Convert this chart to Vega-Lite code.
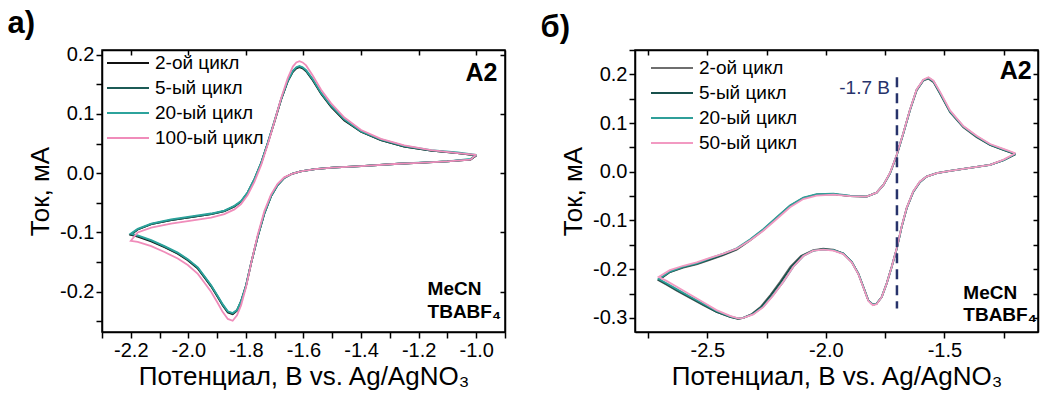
{
  "$schema": "https://vega.github.io/schema/vega-lite/v6.json",
  "padding": {"left": 6, "top": 6, "right": 0, "bottom": 0},
  "config": {
    "font": "Liberation Sans",
    "view": {"stroke": "black", "strokeWidth": 1.5},
    "axis": {"grid": false, "domainColor": "black", "domainWidth": 1.5, "tickColor": "black", "tickWidth": 1.5, "labelColor": "black", "labelFontSize": 20, "titleFontSize": 26, "titleFontWeight": "normal", "titleColor": "black", "labelFont": "Liberation Sans", "titleFont": "Liberation Sans", "labelPadding": 2},
    "legend": {"labelFontSize": 19, "labelColor": "black", "labelFont": "Liberation Sans", "symbolType": "stroke", "symbolSize": 1764, "symbolStrokeWidth": 2, "clipHeight": 18, "rowPadding": 6, "labelOffset": 5, "padding": 0, "title": null},
    "title": {"fontSize": 31, "fontWeight": "bold", "anchor": "start", "frame": "bounds", "color": "black", "font": "Liberation Sans", "baseline": "alphabetic"}
  },
  "spacing": 32,
  "resolve": {"scale": {"color": "independent"}, "legend": {"color": "independent"}},
  "hconcat": [
    {
      "width": 403,
      "height": 282,
      "title": {"text": "а)", "dx": -20, "offset": 5},
      "resolve": {"axis": {"x": "independent", "y": "independent"}},
      "layer": [
        {
          "data": {"values": [
            {"c":"2-ой цикл","i":0,"x":-1.000,"y":0.030},{"c":"2-ой цикл","i":1,"x":-1.020,"y":0.023},{"c":"2-ой цикл","i":2,"x":-1.100,"y":0.020},{"c":"2-ой цикл","i":3,"x":-1.200,"y":0.0175},{"c":"2-ой цикл","i":4,"x":-1.270,"y":0.016},{"c":"2-ой цикл","i":5,"x":-1.400,"y":0.012},{"c":"2-ой цикл","i":6,"x":-1.500,"y":0.0095},{"c":"2-ой цикл","i":7,"x":-1.560,"y":0.007},{"c":"2-ой цикл","i":8,"x":-1.610,"y":0.003},{"c":"2-ой цикл","i":9,"x":-1.640,"y":-0.001},{"c":"2-ой цикл","i":10,"x":-1.667,"y":-0.008},{"c":"2-ой цикл","i":11,"x":-1.690,"y":-0.020},{"c":"2-ой цикл","i":12,"x":-1.713,"y":-0.039},{"c":"2-ой цикл","i":13,"x":-1.736,"y":-0.068},{"c":"2-ой цикл","i":14,"x":-1.759,"y":-0.107},{"c":"2-ой цикл","i":15,"x":-1.782,"y":-0.152},{"c":"2-ой цикл","i":16,"x":-1.800,"y":-0.191},{"c":"2-ой цикл","i":17,"x":-1.817,"y":-0.217},{"c":"2-ой цикл","i":18,"x":-1.831,"y":-0.232},{"c":"2-ой цикл","i":19,"x":-1.846,"y":-0.238},{"c":"2-ой цикл","i":20,"x":-1.863,"y":-0.235},{"c":"2-ой цикл","i":21,"x":-1.881,"y":-0.223},{"c":"2-ой цикл","i":22,"x":-1.898,"y":-0.209},{"c":"2-ой цикл","i":23,"x":-1.921,"y":-0.191},{"c":"2-ой цикл","i":24,"x":-1.944,"y":-0.176},{"c":"2-ой цикл","i":25,"x":-1.967,"y":-0.161},{"c":"2-ой цикл","i":26,"x":-2.002,"y":-0.147},{"c":"2-ой цикл","i":27,"x":-2.037,"y":-0.136},{"c":"2-ой цикл","i":28,"x":-2.083,"y":-0.125},{"c":"2-ой цикл","i":29,"x":-2.129,"y":-0.115},{"c":"2-ой цикл","i":30,"x":-2.176,"y":-0.107},{"c":"2-ой цикл","i":31,"x":-2.200,"y":-0.104},{"c":"2-ой цикл","i":32,"x":-2.176,"y":-0.095},{"c":"2-ой цикл","i":33,"x":-2.129,"y":-0.086},{"c":"2-ой цикл","i":34,"x":-2.060,"y":-0.079},{"c":"2-ой цикл","i":35,"x":-1.990,"y":-0.074},{"c":"2-ой цикл","i":36,"x":-1.921,"y":-0.069},{"c":"2-ой цикл","i":37,"x":-1.875,"y":-0.064},{"c":"2-ой цикл","i":38,"x":-1.840,"y":-0.056},{"c":"2-ой цикл","i":39,"x":-1.817,"y":-0.048},{"c":"2-ой цикл","i":40,"x":-1.794,"y":-0.033},{"c":"2-ой цикл","i":41,"x":-1.771,"y":-0.011},{"c":"2-ой цикл","i":42,"x":-1.747,"y":0.017},{"c":"2-ой цикл","i":43,"x":-1.724,"y":0.051},{"c":"2-ой цикл","i":44,"x":-1.701,"y":0.087},{"c":"2-ой цикл","i":45,"x":-1.678,"y":0.124},{"c":"2-ой цикл","i":46,"x":-1.655,"y":0.155},{"c":"2-ой цикл","i":47,"x":-1.637,"y":0.171},{"c":"2-ой цикл","i":48,"x":-1.625,"y":0.177},{"c":"2-ой цикл","i":49,"x":-1.614,"y":0.179},{"c":"2-ой цикл","i":50,"x":-1.603,"y":0.177},{"c":"2-ой цикл","i":51,"x":-1.591,"y":0.172},{"c":"2-ой цикл","i":52,"x":-1.568,"y":0.157},{"c":"2-ой цикл","i":53,"x":-1.539,"y":0.134},{"c":"2-ой цикл","i":54,"x":-1.504,"y":0.112},{"c":"2-ой цикл","i":55,"x":-1.458,"y":0.089},{"c":"2-ой цикл","i":56,"x":-1.400,"y":0.070},{"c":"2-ой цикл","i":57,"x":-1.331,"y":0.056},{"c":"2-ой цикл","i":58,"x":-1.250,"y":0.045},{"c":"2-ой цикл","i":59,"x":-1.157,"y":0.038},{"c":"2-ой цикл","i":60,"x":-1.065,"y":0.034},{"c":"2-ой цикл","i":61,"x":-1.000,"y":0.030},

            {"c":"5-ый цикл","i":0,"x":-1.000,"y":0.030},{"c":"5-ый цикл","i":1,"x":-1.020,"y":0.023},{"c":"5-ый цикл","i":2,"x":-1.100,"y":0.020},{"c":"5-ый цикл","i":3,"x":-1.200,"y":0.0175},{"c":"5-ый цикл","i":4,"x":-1.270,"y":0.016},{"c":"5-ый цикл","i":5,"x":-1.400,"y":0.012},{"c":"5-ый цикл","i":6,"x":-1.500,"y":0.0095},{"c":"5-ый цикл","i":7,"x":-1.560,"y":0.007},{"c":"5-ый цикл","i":8,"x":-1.610,"y":0.003},{"c":"5-ый цикл","i":9,"x":-1.640,"y":-0.001},{"c":"5-ый цикл","i":10,"x":-1.667,"y":-0.008},{"c":"5-ый цикл","i":11,"x":-1.690,"y":-0.020},{"c":"5-ый цикл","i":12,"x":-1.713,"y":-0.039},{"c":"5-ый цикл","i":13,"x":-1.736,"y":-0.068},{"c":"5-ый цикл","i":14,"x":-1.759,"y":-0.107},{"c":"5-ый цикл","i":15,"x":-1.782,"y":-0.152},{"c":"5-ый цикл","i":16,"x":-1.800,"y":-0.190},{"c":"5-ый цикл","i":17,"x":-1.817,"y":-0.216},{"c":"5-ый цикл","i":18,"x":-1.831,"y":-0.231},{"c":"5-ый цикл","i":19,"x":-1.846,"y":-0.237},{"c":"5-ый цикл","i":20,"x":-1.863,"y":-0.234},{"c":"5-ый цикл","i":21,"x":-1.881,"y":-0.222},{"c":"5-ый цикл","i":22,"x":-1.898,"y":-0.208},{"c":"5-ый цикл","i":23,"x":-1.921,"y":-0.190},{"c":"5-ый цикл","i":24,"x":-1.944,"y":-0.175},{"c":"5-ый цикл","i":25,"x":-1.967,"y":-0.160},{"c":"5-ый цикл","i":26,"x":-2.002,"y":-0.146},{"c":"5-ый цикл","i":27,"x":-2.037,"y":-0.135},{"c":"5-ый цикл","i":28,"x":-2.083,"y":-0.124},{"c":"5-ый цикл","i":29,"x":-2.129,"y":-0.114},{"c":"5-ый цикл","i":30,"x":-2.176,"y":-0.106},{"c":"5-ый цикл","i":31,"x":-2.200,"y":-0.103},{"c":"5-ый цикл","i":32,"x":-2.176,"y":-0.095},{"c":"5-ый цикл","i":33,"x":-2.129,"y":-0.086},{"c":"5-ый цикл","i":34,"x":-2.060,"y":-0.079},{"c":"5-ый цикл","i":35,"x":-1.990,"y":-0.074},{"c":"5-ый цикл","i":36,"x":-1.921,"y":-0.069},{"c":"5-ый цикл","i":37,"x":-1.875,"y":-0.064},{"c":"5-ый цикл","i":38,"x":-1.840,"y":-0.056},{"c":"5-ый цикл","i":39,"x":-1.817,"y":-0.048},{"c":"5-ый цикл","i":40,"x":-1.794,"y":-0.033},{"c":"5-ый цикл","i":41,"x":-1.771,"y":-0.011},{"c":"5-ый цикл","i":42,"x":-1.747,"y":0.017},{"c":"5-ый цикл","i":43,"x":-1.724,"y":0.051},{"c":"5-ый цикл","i":44,"x":-1.701,"y":0.087},{"c":"5-ый цикл","i":45,"x":-1.678,"y":0.124},{"c":"5-ый цикл","i":46,"x":-1.655,"y":0.155},{"c":"5-ый цикл","i":47,"x":-1.637,"y":0.172},{"c":"5-ый цикл","i":48,"x":-1.625,"y":0.178},{"c":"5-ый цикл","i":49,"x":-1.614,"y":0.180},{"c":"5-ый цикл","i":50,"x":-1.603,"y":0.178},{"c":"5-ый цикл","i":51,"x":-1.591,"y":0.173},{"c":"5-ый цикл","i":52,"x":-1.568,"y":0.158},{"c":"5-ый цикл","i":53,"x":-1.539,"y":0.135},{"c":"5-ый цикл","i":54,"x":-1.504,"y":0.113},{"c":"5-ый цикл","i":55,"x":-1.458,"y":0.090},{"c":"5-ый цикл","i":56,"x":-1.400,"y":0.070},{"c":"5-ый цикл","i":57,"x":-1.331,"y":0.056},{"c":"5-ый цикл","i":58,"x":-1.250,"y":0.045},{"c":"5-ый цикл","i":59,"x":-1.157,"y":0.038},{"c":"5-ый цикл","i":60,"x":-1.065,"y":0.034},{"c":"5-ый цикл","i":61,"x":-1.000,"y":0.030},

            {"c":"20-ый цикл","i":0,"x":-1.000,"y":0.031},{"c":"20-ый цикл","i":1,"x":-1.020,"y":0.024},{"c":"20-ый цикл","i":2,"x":-1.100,"y":0.020},{"c":"20-ый цикл","i":3,"x":-1.200,"y":0.018},{"c":"20-ый цикл","i":4,"x":-1.270,"y":0.016},{"c":"20-ый цикл","i":5,"x":-1.400,"y":0.012},{"c":"20-ый цикл","i":6,"x":-1.500,"y":0.0095},{"c":"20-ый цикл","i":7,"x":-1.560,"y":0.007},{"c":"20-ый цикл","i":8,"x":-1.610,"y":0.003},{"c":"20-ый цикл","i":9,"x":-1.640,"y":-0.001},{"c":"20-ый цикл","i":10,"x":-1.667,"y":-0.008},{"c":"20-ый цикл","i":11,"x":-1.690,"y":-0.020},{"c":"20-ый цикл","i":12,"x":-1.713,"y":-0.039},{"c":"20-ый цикл","i":13,"x":-1.736,"y":-0.068},{"c":"20-ый цикл","i":14,"x":-1.759,"y":-0.107},{"c":"20-ый цикл","i":15,"x":-1.782,"y":-0.152},{"c":"20-ый цикл","i":16,"x":-1.800,"y":-0.190},{"c":"20-ый цикл","i":17,"x":-1.817,"y":-0.216},{"c":"20-ый цикл","i":18,"x":-1.831,"y":-0.231},{"c":"20-ый цикл","i":19,"x":-1.846,"y":-0.236},{"c":"20-ый цикл","i":20,"x":-1.863,"y":-0.233},{"c":"20-ый цикл","i":21,"x":-1.881,"y":-0.221},{"c":"20-ый цикл","i":22,"x":-1.898,"y":-0.207},{"c":"20-ый цикл","i":23,"x":-1.921,"y":-0.189},{"c":"20-ый цикл","i":24,"x":-1.944,"y":-0.174},{"c":"20-ый цикл","i":25,"x":-1.967,"y":-0.159},{"c":"20-ый цикл","i":26,"x":-2.002,"y":-0.145},{"c":"20-ый цикл","i":27,"x":-2.037,"y":-0.134},{"c":"20-ый цикл","i":28,"x":-2.083,"y":-0.123},{"c":"20-ый цикл","i":29,"x":-2.129,"y":-0.113},{"c":"20-ый цикл","i":30,"x":-2.176,"y":-0.105},{"c":"20-ый цикл","i":31,"x":-2.200,"y":-0.102},{"c":"20-ый цикл","i":32,"x":-2.176,"y":-0.094},{"c":"20-ый цикл","i":33,"x":-2.129,"y":-0.085},{"c":"20-ый цикл","i":34,"x":-2.060,"y":-0.078},{"c":"20-ый цикл","i":35,"x":-1.990,"y":-0.073},{"c":"20-ый цикл","i":36,"x":-1.921,"y":-0.068},{"c":"20-ый цикл","i":37,"x":-1.875,"y":-0.063},{"c":"20-ый цикл","i":38,"x":-1.840,"y":-0.055},{"c":"20-ый цикл","i":39,"x":-1.817,"y":-0.047},{"c":"20-ый цикл","i":40,"x":-1.794,"y":-0.032},{"c":"20-ый цикл","i":41,"x":-1.771,"y":-0.010},{"c":"20-ый цикл","i":42,"x":-1.747,"y":0.018},{"c":"20-ый цикл","i":43,"x":-1.724,"y":0.052},{"c":"20-ый цикл","i":44,"x":-1.701,"y":0.088},{"c":"20-ый цикл","i":45,"x":-1.678,"y":0.125},{"c":"20-ый цикл","i":46,"x":-1.655,"y":0.156},{"c":"20-ый цикл","i":47,"x":-1.637,"y":0.173},{"c":"20-ый цикл","i":48,"x":-1.625,"y":0.179},{"c":"20-ый цикл","i":49,"x":-1.614,"y":0.181},{"c":"20-ый цикл","i":50,"x":-1.603,"y":0.179},{"c":"20-ый цикл","i":51,"x":-1.591,"y":0.174},{"c":"20-ый цикл","i":52,"x":-1.568,"y":0.159},{"c":"20-ый цикл","i":53,"x":-1.539,"y":0.136},{"c":"20-ый цикл","i":54,"x":-1.504,"y":0.114},{"c":"20-ый цикл","i":55,"x":-1.458,"y":0.091},{"c":"20-ый цикл","i":56,"x":-1.400,"y":0.071},{"c":"20-ый цикл","i":57,"x":-1.331,"y":0.057},{"c":"20-ый цикл","i":58,"x":-1.250,"y":0.046},{"c":"20-ый цикл","i":59,"x":-1.157,"y":0.039},{"c":"20-ый цикл","i":60,"x":-1.065,"y":0.035},{"c":"20-ый цикл","i":61,"x":-1.000,"y":0.031},

            {"c":"100-ый цикл","i":0,"x":-1.000,"y":0.031},{"c":"100-ый цикл","i":1,"x":-1.020,"y":0.023},{"c":"100-ый цикл","i":2,"x":-1.100,"y":0.020},{"c":"100-ый цикл","i":3,"x":-1.200,"y":0.0175},{"c":"100-ый цикл","i":4,"x":-1.270,"y":0.016},{"c":"100-ый цикл","i":5,"x":-1.400,"y":0.012},{"c":"100-ый цикл","i":6,"x":-1.500,"y":0.0095},{"c":"100-ый цикл","i":7,"x":-1.560,"y":0.007},{"c":"100-ый цикл","i":8,"x":-1.610,"y":0.003},{"c":"100-ый цикл","i":9,"x":-1.640,"y":-0.001},{"c":"100-ый цикл","i":10,"x":-1.667,"y":-0.007},{"c":"100-ый цикл","i":11,"x":-1.690,"y":-0.018},{"c":"100-ый цикл","i":12,"x":-1.713,"y":-0.036},{"c":"100-ый цикл","i":13,"x":-1.736,"y":-0.064},{"c":"100-ый цикл","i":14,"x":-1.759,"y":-0.104},{"c":"100-ый цикл","i":15,"x":-1.782,"y":-0.152},{"c":"100-ый цикл","i":16,"x":-1.800,"y":-0.193},{"c":"100-ый цикл","i":17,"x":-1.817,"y":-0.223},{"c":"100-ый цикл","i":18,"x":-1.831,"y":-0.240},{"c":"100-ый цикл","i":19,"x":-1.846,"y":-0.249},{"c":"100-ый цикл","i":20,"x":-1.863,"y":-0.246},{"c":"100-ый цикл","i":21,"x":-1.881,"y":-0.234},{"c":"100-ый цикл","i":22,"x":-1.898,"y":-0.219},{"c":"100-ый цикл","i":23,"x":-1.921,"y":-0.200},{"c":"100-ый цикл","i":24,"x":-1.944,"y":-0.185},{"c":"100-ый цикл","i":25,"x":-1.967,"y":-0.170},{"c":"100-ый цикл","i":26,"x":-2.002,"y":-0.155},{"c":"100-ый цикл","i":27,"x":-2.037,"y":-0.144},{"c":"100-ый цикл","i":28,"x":-2.083,"y":-0.133},{"c":"100-ый цикл","i":29,"x":-2.129,"y":-0.123},{"c":"100-ый цикл","i":30,"x":-2.176,"y":-0.116},{"c":"100-ый цикл","i":31,"x":-2.200,"y":-0.114},{"c":"100-ый цикл","i":32,"x":-2.176,"y":-0.100},{"c":"100-ый цикл","i":33,"x":-2.129,"y":-0.092},{"c":"100-ый цикл","i":34,"x":-2.060,"y":-0.085},{"c":"100-ый цикл","i":35,"x":-1.990,"y":-0.080},{"c":"100-ый цикл","i":36,"x":-1.921,"y":-0.075},{"c":"100-ый цикл","i":37,"x":-1.875,"y":-0.069},{"c":"100-ый цикл","i":38,"x":-1.840,"y":-0.061},{"c":"100-ый цикл","i":39,"x":-1.817,"y":-0.052},{"c":"100-ый цикл","i":40,"x":-1.794,"y":-0.037},{"c":"100-ый цикл","i":41,"x":-1.771,"y":-0.015},{"c":"100-ый цикл","i":42,"x":-1.747,"y":0.014},{"c":"100-ый цикл","i":43,"x":-1.724,"y":0.049},{"c":"100-ый цикл","i":44,"x":-1.701,"y":0.087},{"c":"100-ый цикл","i":45,"x":-1.678,"y":0.126},{"c":"100-ый цикл","i":46,"x":-1.655,"y":0.160},{"c":"100-ый цикл","i":47,"x":-1.637,"y":0.180},{"c":"100-ый цикл","i":48,"x":-1.625,"y":0.187},{"c":"100-ый цикл","i":49,"x":-1.614,"y":0.189},{"c":"100-ый цикл","i":50,"x":-1.603,"y":0.187},{"c":"100-ый цикл","i":51,"x":-1.591,"y":0.182},{"c":"100-ый цикл","i":52,"x":-1.568,"y":0.165},{"c":"100-ый цикл","i":53,"x":-1.539,"y":0.141},{"c":"100-ый цикл","i":54,"x":-1.504,"y":0.118},{"c":"100-ый цикл","i":55,"x":-1.458,"y":0.094},{"c":"100-ый цикл","i":56,"x":-1.400,"y":0.073},{"c":"100-ый цикл","i":57,"x":-1.331,"y":0.058},{"c":"100-ый цикл","i":58,"x":-1.250,"y":0.047},{"c":"100-ый цикл","i":59,"x":-1.157,"y":0.039},{"c":"100-ый цикл","i":60,"x":-1.065,"y":0.034},{"c":"100-ый цикл","i":61,"x":-1.000,"y":0.031}
          ]},
          "mark": {"type": "line", "strokeWidth": 1.8},
          "encoding": {
            "x": {"field": "x", "type": "quantitative", "scale": {"domain": [-2.3, -0.9], "nice": false, "zero": false},
              "axis": {"orient": "bottom", "values": [-2.3,-2.2,-2.1,-2.0,-1.9,-1.8,-1.7,-1.6,-1.5,-1.4,-1.3,-1.2,-1.1,-1.0,-0.9], "labelExpr": "abs(round(datum.value*10))%2==0 && datum.value > -2.25 && datum.value < -0.95 ? replace(format(datum.value,'.1f'),'−','-') : ''", "tickSize": 6, "title": "Потенциал, В vs. Ag/AgNO₃", "titlePadding": 3}},
            "y": {"field": "y", "type": "quantitative", "scale": {"domain": [-0.268, 0.208], "nice": false, "zero": false},
              "axis": {"orient": "left", "values": [-0.25,-0.2,-0.15,-0.1,-0.05,0,0.05,0.1,0.15,0.2], "labelExpr": "abs(round(datum.value*20))%2==0 ? replace(format(datum.value,'.1f'),'−','-') : ''", "tickSize": 6, "title": "Ток, мА", "titlePadding": 6}},
            "color": {"field": "c", "type": "nominal",
              "scale": {"domain": ["2-ой цикл","5-ый цикл","20-ый цикл","100-ый цикл"], "range": ["#111111","#1c5b56","#2ca39c","#f08cba"]},
              "legend": {"orient": "none", "legendX": 4, "legendY": 4}},
            "order": {"field": "i", "type": "quantitative"}
          }
        },
        {
          "data": {"values": [{"t": "A2", "x": -0.926, "y": 0.170}]},
          "mark": {"type": "text", "fontSize": 25, "fontWeight": "bold", "align": "right", "baseline": "middle", "color": "black"},
          "encoding": {
            "x": {"field": "x", "type": "quantitative", "axis": {"orient": "top", "values": [-2.2,-2.0,-1.8,-1.6,-1.4,-1.2,-1.0], "labels": false, "tickSize": -5, "title": null}},
            "y": {"field": "y", "type": "quantitative", "axis": {"orient": "right", "values": [-0.2,-0.1,0,0.1,0.2], "labels": false, "tickSize": -5, "title": null}},
            "text": {"field": "t"}
          }
        },
        {
          "data": {"values": [{"t": "MeCN", "x": -1.169, "y": -0.196}, {"t": "TBABF₄", "x": -1.169, "y": -0.235}]},
          "mark": {"type": "text", "fontSize": 19, "fontWeight": "bold", "align": "left", "baseline": "middle", "color": "black"},
          "encoding": {
            "x": {"field": "x", "type": "quantitative", "axis": null},
            "y": {"field": "y", "type": "quantitative", "axis": null},
            "text": {"field": "t"}
          }
        }
      ]
    },
    {
      "width": 403,
      "height": 282,
      "title": {"text": "б)", "dx": -20, "offset": 5},
      "resolve": {"axis": {"x": "independent", "y": "independent"}},
      "layer": [
        {
          "data": {"values": [
            {"c":"2-ой цикл","i":0,"x":-1.200,"y":0.036},{"c":"2-ой цикл","i":1,"x":-1.250,"y":0.024},{"c":"2-ой цикл","i":2,"x":-1.307,"y":0.014},{"c":"2-ой цикл","i":3,"x":-1.406,"y":0.007},{"c":"2-ой цикл","i":4,"x":-1.476,"y":0.002},{"c":"2-ой цикл","i":5,"x":-1.532,"y":-0.003},{"c":"2-ой цикл","i":6,"x":-1.575,"y":-0.010},{"c":"2-ой цикл","i":7,"x":-1.603,"y":-0.021},{"c":"2-ой цикл","i":8,"x":-1.631,"y":-0.041},{"c":"2-ой цикл","i":9,"x":-1.659,"y":-0.075},{"c":"2-ой цикл","i":10,"x":-1.680,"y":-0.113},{"c":"2-ой цикл","i":11,"x":-1.701,"y":-0.158},{"c":"2-ой цикл","i":12,"x":-1.722,"y":-0.195},{"c":"2-ой цикл","i":13,"x":-1.743,"y":-0.229},{"c":"2-ой цикл","i":14,"x":-1.764,"y":-0.257},{"c":"2-ой цикл","i":15,"x":-1.786,"y":-0.271},{"c":"2-ой цикл","i":16,"x":-1.802,"y":-0.273},{"c":"2-ой цикл","i":17,"x":-1.821,"y":-0.264},{"c":"2-ой цикл","i":18,"x":-1.842,"y":-0.236},{"c":"2-ой цикл","i":19,"x":-1.863,"y":-0.209},{"c":"2-ой цикл","i":20,"x":-1.891,"y":-0.185},{"c":"2-ой цикл","i":21,"x":-1.926,"y":-0.168},{"c":"2-ой цикл","i":22,"x":-1.968,"y":-0.160},{"c":"2-ой цикл","i":23,"x":-2.011,"y":-0.158},{"c":"2-ой цикл","i":24,"x":-2.053,"y":-0.161},{"c":"2-ой цикл","i":25,"x":-2.105,"y":-0.173},{"c":"2-ой цикл","i":26,"x":-2.150,"y":-0.195},{"c":"2-ой цикл","i":27,"x":-2.193,"y":-0.226},{"c":"2-ой цикл","i":28,"x":-2.234,"y":-0.253},{"c":"2-ой цикл","i":29,"x":-2.274,"y":-0.277},{"c":"2-ой цикл","i":30,"x":-2.312,"y":-0.292},{"c":"2-ой цикл","i":31,"x":-2.348,"y":-0.300},{"c":"2-ой цикл","i":32,"x":-2.370,"y":-0.302},{"c":"2-ой цикл","i":33,"x":-2.404,"y":-0.298},{"c":"2-ой цикл","i":34,"x":-2.461,"y":-0.288},{"c":"2-ой цикл","i":35,"x":-2.517,"y":-0.274},{"c":"2-ой цикл","i":36,"x":-2.573,"y":-0.259},{"c":"2-ой цикл","i":37,"x":-2.629,"y":-0.244},{"c":"2-ой цикл","i":38,"x":-2.672,"y":-0.232},{"c":"2-ой цикл","i":39,"x":-2.705,"y":-0.223},{"c":"2-ой цикл","i":40,"x":-2.658,"y":-0.206},{"c":"2-ой цикл","i":41,"x":-2.601,"y":-0.197},{"c":"2-ой цикл","i":42,"x":-2.545,"y":-0.190},{"c":"2-ой цикл","i":43,"x":-2.489,"y":-0.181},{"c":"2-ой цикл","i":44,"x":-2.432,"y":-0.171},{"c":"2-ой цикл","i":45,"x":-2.376,"y":-0.160},{"c":"2-ой цикл","i":46,"x":-2.320,"y":-0.141},{"c":"2-ой цикл","i":47,"x":-2.264,"y":-0.120},{"c":"2-ой цикл","i":48,"x":-2.207,"y":-0.095},{"c":"2-ой цикл","i":49,"x":-2.151,"y":-0.071},{"c":"2-ой цикл","i":50,"x":-2.095,"y":-0.054},{"c":"2-ой цикл","i":51,"x":-2.039,"y":-0.047},{"c":"2-ой цикл","i":52,"x":-1.968,"y":-0.046},{"c":"2-ой цикл","i":53,"x":-1.898,"y":-0.050},{"c":"2-ой цикл","i":54,"x":-1.828,"y":-0.051},{"c":"2-ой цикл","i":55,"x":-1.786,"y":-0.043},{"c":"2-ой цикл","i":56,"x":-1.757,"y":-0.027},{"c":"2-ой цикл","i":57,"x":-1.729,"y":-0.003},{"c":"2-ой цикл","i":58,"x":-1.701,"y":0.034},{"c":"2-ой цикл","i":59,"x":-1.673,"y":0.079},{"c":"2-ой цикл","i":60,"x":-1.645,"y":0.127},{"c":"2-ой цикл","i":61,"x":-1.617,"y":0.167},{"c":"2-ой цикл","i":62,"x":-1.589,"y":0.187},{"c":"2-ой цикл","i":63,"x":-1.567,"y":0.191},{"c":"2-ой цикл","i":64,"x":-1.546,"y":0.184},{"c":"2-ой цикл","i":65,"x":-1.518,"y":0.160},{"c":"2-ой цикл","i":66,"x":-1.476,"y":0.122},{"c":"2-ой цикл","i":67,"x":-1.420,"y":0.091},{"c":"2-ой цикл","i":68,"x":-1.364,"y":0.071},{"c":"2-ой цикл","i":69,"x":-1.307,"y":0.055},{"c":"2-ой цикл","i":70,"x":-1.251,"y":0.045},{"c":"2-ой цикл","i":71,"x":-1.200,"y":0.036},

            {"c":"5-ый цикл","i":0,"x":-1.200,"y":0.036},{"c":"5-ый цикл","i":1,"x":-1.250,"y":0.024},{"c":"5-ый цикл","i":2,"x":-1.307,"y":0.014},{"c":"5-ый цикл","i":3,"x":-1.406,"y":0.007},{"c":"5-ый цикл","i":4,"x":-1.476,"y":0.002},{"c":"5-ый цикл","i":5,"x":-1.532,"y":-0.003},{"c":"5-ый цикл","i":6,"x":-1.575,"y":-0.010},{"c":"5-ый цикл","i":7,"x":-1.603,"y":-0.021},{"c":"5-ый цикл","i":8,"x":-1.631,"y":-0.041},{"c":"5-ый цикл","i":9,"x":-1.659,"y":-0.075},{"c":"5-ый цикл","i":10,"x":-1.680,"y":-0.113},{"c":"5-ый цикл","i":11,"x":-1.701,"y":-0.158},{"c":"5-ый цикл","i":12,"x":-1.722,"y":-0.195},{"c":"5-ый цикл","i":13,"x":-1.743,"y":-0.229},{"c":"5-ый цикл","i":14,"x":-1.764,"y":-0.257},{"c":"5-ый цикл","i":15,"x":-1.786,"y":-0.271},{"c":"5-ый цикл","i":16,"x":-1.802,"y":-0.273},{"c":"5-ый цикл","i":17,"x":-1.821,"y":-0.264},{"c":"5-ый цикл","i":18,"x":-1.842,"y":-0.236},{"c":"5-ый цикл","i":19,"x":-1.863,"y":-0.209},{"c":"5-ый цикл","i":20,"x":-1.891,"y":-0.185},{"c":"5-ый цикл","i":21,"x":-1.926,"y":-0.168},{"c":"5-ый цикл","i":22,"x":-1.968,"y":-0.161},{"c":"5-ый цикл","i":23,"x":-2.011,"y":-0.159},{"c":"5-ый цикл","i":24,"x":-2.053,"y":-0.162},{"c":"5-ый цикл","i":25,"x":-2.102,"y":-0.173},{"c":"5-ый цикл","i":26,"x":-2.146,"y":-0.195},{"c":"5-ый цикл","i":27,"x":-2.189,"y":-0.226},{"c":"5-ый цикл","i":28,"x":-2.231,"y":-0.253},{"c":"5-ый цикл","i":29,"x":-2.271,"y":-0.277},{"c":"5-ый цикл","i":30,"x":-2.310,"y":-0.292},{"c":"5-ый цикл","i":31,"x":-2.348,"y":-0.300},{"c":"5-ый цикл","i":32,"x":-2.370,"y":-0.302},{"c":"5-ый цикл","i":33,"x":-2.404,"y":-0.298},{"c":"5-ый цикл","i":34,"x":-2.461,"y":-0.288},{"c":"5-ый цикл","i":35,"x":-2.517,"y":-0.273},{"c":"5-ый цикл","i":36,"x":-2.573,"y":-0.258},{"c":"5-ый цикл","i":37,"x":-2.629,"y":-0.243},{"c":"5-ый цикл","i":38,"x":-2.672,"y":-0.231},{"c":"5-ый цикл","i":39,"x":-2.705,"y":-0.222},{"c":"5-ый цикл","i":40,"x":-2.658,"y":-0.206},{"c":"5-ый цикл","i":41,"x":-2.601,"y":-0.196},{"c":"5-ый цикл","i":42,"x":-2.545,"y":-0.189},{"c":"5-ый цикл","i":43,"x":-2.489,"y":-0.180},{"c":"5-ый цикл","i":44,"x":-2.432,"y":-0.170},{"c":"5-ый цикл","i":45,"x":-2.376,"y":-0.159},{"c":"5-ый цикл","i":46,"x":-2.320,"y":-0.140},{"c":"5-ый цикл","i":47,"x":-2.264,"y":-0.119},{"c":"5-ый цикл","i":48,"x":-2.207,"y":-0.094},{"c":"5-ый цикл","i":49,"x":-2.151,"y":-0.070},{"c":"5-ый цикл","i":50,"x":-2.095,"y":-0.054},{"c":"5-ый цикл","i":51,"x":-2.039,"y":-0.047},{"c":"5-ый цикл","i":52,"x":-1.968,"y":-0.046},{"c":"5-ый цикл","i":53,"x":-1.898,"y":-0.050},{"c":"5-ый цикл","i":54,"x":-1.828,"y":-0.051},{"c":"5-ый цикл","i":55,"x":-1.786,"y":-0.043},{"c":"5-ый цикл","i":56,"x":-1.757,"y":-0.027},{"c":"5-ый цикл","i":57,"x":-1.729,"y":-0.003},{"c":"5-ый цикл","i":58,"x":-1.701,"y":0.034},{"c":"5-ый цикл","i":59,"x":-1.673,"y":0.079},{"c":"5-ый цикл","i":60,"x":-1.645,"y":0.127},{"c":"5-ый цикл","i":61,"x":-1.617,"y":0.168},{"c":"5-ый цикл","i":62,"x":-1.589,"y":0.188},{"c":"5-ый цикл","i":63,"x":-1.567,"y":0.192},{"c":"5-ый цикл","i":64,"x":-1.546,"y":0.185},{"c":"5-ый цикл","i":65,"x":-1.518,"y":0.161},{"c":"5-ый цикл","i":66,"x":-1.476,"y":0.123},{"c":"5-ый цикл","i":67,"x":-1.420,"y":0.092},{"c":"5-ый цикл","i":68,"x":-1.364,"y":0.072},{"c":"5-ый цикл","i":69,"x":-1.307,"y":0.055},{"c":"5-ый цикл","i":70,"x":-1.251,"y":0.045},{"c":"5-ый цикл","i":71,"x":-1.200,"y":0.036},

            {"c":"20-ый цикл","i":0,"x":-1.200,"y":0.037},{"c":"20-ый цикл","i":1,"x":-1.250,"y":0.024},{"c":"20-ый цикл","i":2,"x":-1.307,"y":0.014},{"c":"20-ый цикл","i":3,"x":-1.406,"y":0.007},{"c":"20-ый цикл","i":4,"x":-1.476,"y":0.002},{"c":"20-ый цикл","i":5,"x":-1.532,"y":-0.003},{"c":"20-ый цикл","i":6,"x":-1.575,"y":-0.010},{"c":"20-ый цикл","i":7,"x":-1.603,"y":-0.021},{"c":"20-ый цикл","i":8,"x":-1.631,"y":-0.041},{"c":"20-ый цикл","i":9,"x":-1.659,"y":-0.075},{"c":"20-ый цикл","i":10,"x":-1.680,"y":-0.113},{"c":"20-ый цикл","i":11,"x":-1.701,"y":-0.158},{"c":"20-ый цикл","i":12,"x":-1.722,"y":-0.195},{"c":"20-ый цикл","i":13,"x":-1.743,"y":-0.229},{"c":"20-ый цикл","i":14,"x":-1.764,"y":-0.257},{"c":"20-ый цикл","i":15,"x":-1.786,"y":-0.271},{"c":"20-ый цикл","i":16,"x":-1.802,"y":-0.273},{"c":"20-ый цикл","i":17,"x":-1.821,"y":-0.264},{"c":"20-ый цикл","i":18,"x":-1.842,"y":-0.236},{"c":"20-ый цикл","i":19,"x":-1.863,"y":-0.209},{"c":"20-ый цикл","i":20,"x":-1.891,"y":-0.185},{"c":"20-ый цикл","i":21,"x":-1.926,"y":-0.168},{"c":"20-ый цикл","i":22,"x":-1.968,"y":-0.161},{"c":"20-ый цикл","i":23,"x":-2.011,"y":-0.160},{"c":"20-ый цикл","i":24,"x":-2.053,"y":-0.162},{"c":"20-ый цикл","i":25,"x":-2.095,"y":-0.173},{"c":"20-ый цикл","i":26,"x":-2.137,"y":-0.195},{"c":"20-ый цикл","i":27,"x":-2.179,"y":-0.226},{"c":"20-ый цикл","i":28,"x":-2.222,"y":-0.253},{"c":"20-ый цикл","i":29,"x":-2.264,"y":-0.277},{"c":"20-ый цикл","i":30,"x":-2.306,"y":-0.292},{"c":"20-ый цикл","i":31,"x":-2.348,"y":-0.300},{"c":"20-ый цикл","i":32,"x":-2.370,"y":-0.301},{"c":"20-ый цикл","i":33,"x":-2.404,"y":-0.297},{"c":"20-ый цикл","i":34,"x":-2.461,"y":-0.286},{"c":"20-ый цикл","i":35,"x":-2.517,"y":-0.271},{"c":"20-ый цикл","i":36,"x":-2.573,"y":-0.256},{"c":"20-ый цикл","i":37,"x":-2.629,"y":-0.241},{"c":"20-ый цикл","i":38,"x":-2.672,"y":-0.229},{"c":"20-ый цикл","i":39,"x":-2.705,"y":-0.220},{"c":"20-ый цикл","i":40,"x":-2.658,"y":-0.205},{"c":"20-ый цикл","i":41,"x":-2.601,"y":-0.195},{"c":"20-ый цикл","i":42,"x":-2.545,"y":-0.188},{"c":"20-ый цикл","i":43,"x":-2.489,"y":-0.178},{"c":"20-ый цикл","i":44,"x":-2.432,"y":-0.168},{"c":"20-ый цикл","i":45,"x":-2.376,"y":-0.157},{"c":"20-ый цикл","i":46,"x":-2.320,"y":-0.139},{"c":"20-ый цикл","i":47,"x":-2.264,"y":-0.118},{"c":"20-ый цикл","i":48,"x":-2.207,"y":-0.093},{"c":"20-ый цикл","i":49,"x":-2.151,"y":-0.069},{"c":"20-ый цикл","i":50,"x":-2.095,"y":-0.053},{"c":"20-ый цикл","i":51,"x":-2.039,"y":-0.046},{"c":"20-ый цикл","i":52,"x":-1.968,"y":-0.045},{"c":"20-ый цикл","i":53,"x":-1.898,"y":-0.049},{"c":"20-ый цикл","i":54,"x":-1.828,"y":-0.051},{"c":"20-ый цикл","i":55,"x":-1.786,"y":-0.043},{"c":"20-ый цикл","i":56,"x":-1.757,"y":-0.027},{"c":"20-ый цикл","i":57,"x":-1.729,"y":-0.003},{"c":"20-ый цикл","i":58,"x":-1.701,"y":0.034},{"c":"20-ый цикл","i":59,"x":-1.673,"y":0.079},{"c":"20-ый цикл","i":60,"x":-1.645,"y":0.127},{"c":"20-ый цикл","i":61,"x":-1.617,"y":0.168},{"c":"20-ый цикл","i":62,"x":-1.589,"y":0.188},{"c":"20-ый цикл","i":63,"x":-1.567,"y":0.193},{"c":"20-ый цикл","i":64,"x":-1.546,"y":0.186},{"c":"20-ый цикл","i":65,"x":-1.518,"y":0.162},{"c":"20-ый цикл","i":66,"x":-1.476,"y":0.124},{"c":"20-ый цикл","i":67,"x":-1.420,"y":0.093},{"c":"20-ый цикл","i":68,"x":-1.364,"y":0.073},{"c":"20-ый цикл","i":69,"x":-1.307,"y":0.056},{"c":"20-ый цикл","i":70,"x":-1.251,"y":0.046},{"c":"20-ый цикл","i":71,"x":-1.200,"y":0.037},

            {"c":"50-ый цикл","i":0,"x":-1.200,"y":0.038},{"c":"50-ый цикл","i":1,"x":-1.250,"y":0.025},{"c":"50-ый цикл","i":2,"x":-1.307,"y":0.014},{"c":"50-ый цикл","i":3,"x":-1.406,"y":0.007},{"c":"50-ый цикл","i":4,"x":-1.476,"y":0.002},{"c":"50-ый цикл","i":5,"x":-1.532,"y":-0.003},{"c":"50-ый цикл","i":6,"x":-1.575,"y":-0.010},{"c":"50-ый цикл","i":7,"x":-1.603,"y":-0.020},{"c":"50-ый цикл","i":8,"x":-1.631,"y":-0.040},{"c":"50-ый цикл","i":9,"x":-1.659,"y":-0.074},{"c":"50-ый цикл","i":10,"x":-1.680,"y":-0.112},{"c":"50-ый цикл","i":11,"x":-1.701,"y":-0.157},{"c":"50-ый цикл","i":12,"x":-1.722,"y":-0.195},{"c":"50-ый цикл","i":13,"x":-1.743,"y":-0.229},{"c":"50-ый цикл","i":14,"x":-1.764,"y":-0.257},{"c":"50-ый цикл","i":15,"x":-1.786,"y":-0.272},{"c":"50-ый цикл","i":16,"x":-1.802,"y":-0.274},{"c":"50-ый цикл","i":17,"x":-1.821,"y":-0.265},{"c":"50-ый цикл","i":18,"x":-1.842,"y":-0.237},{"c":"50-ый цикл","i":19,"x":-1.863,"y":-0.210},{"c":"50-ый цикл","i":20,"x":-1.891,"y":-0.186},{"c":"50-ый цикл","i":21,"x":-1.926,"y":-0.169},{"c":"50-ый цикл","i":22,"x":-1.968,"y":-0.162},{"c":"50-ый цикл","i":23,"x":-2.011,"y":-0.160},{"c":"50-ый цикл","i":24,"x":-2.053,"y":-0.162},{"c":"50-ый цикл","i":25,"x":-2.095,"y":-0.173},{"c":"50-ый цикл","i":26,"x":-2.137,"y":-0.195},{"c":"50-ый цикл","i":27,"x":-2.179,"y":-0.226},{"c":"50-ый цикл","i":28,"x":-2.222,"y":-0.254},{"c":"50-ый цикл","i":29,"x":-2.264,"y":-0.278},{"c":"50-ый цикл","i":30,"x":-2.306,"y":-0.293},{"c":"50-ый цикл","i":31,"x":-2.348,"y":-0.300},{"c":"50-ый цикл","i":32,"x":-2.370,"y":-0.301},{"c":"50-ый цикл","i":33,"x":-2.404,"y":-0.296},{"c":"50-ый цикл","i":34,"x":-2.461,"y":-0.284},{"c":"50-ый цикл","i":35,"x":-2.517,"y":-0.268},{"c":"50-ый цикл","i":36,"x":-2.573,"y":-0.252},{"c":"50-ый цикл","i":37,"x":-2.629,"y":-0.236},{"c":"50-ый цикл","i":38,"x":-2.672,"y":-0.224},{"c":"50-ый цикл","i":39,"x":-2.705,"y":-0.216},{"c":"50-ый цикл","i":40,"x":-2.658,"y":-0.202},{"c":"50-ый цикл","i":41,"x":-2.601,"y":-0.193},{"c":"50-ый цикл","i":42,"x":-2.545,"y":-0.186},{"c":"50-ый цикл","i":43,"x":-2.489,"y":-0.177},{"c":"50-ый цикл","i":44,"x":-2.432,"y":-0.168},{"c":"50-ый цикл","i":45,"x":-2.376,"y":-0.158},{"c":"50-ый цикл","i":46,"x":-2.320,"y":-0.141},{"c":"50-ый цикл","i":47,"x":-2.264,"y":-0.121},{"c":"50-ый цикл","i":48,"x":-2.207,"y":-0.097},{"c":"50-ый цикл","i":49,"x":-2.151,"y":-0.073},{"c":"50-ый цикл","i":50,"x":-2.095,"y":-0.056},{"c":"50-ый цикл","i":51,"x":-2.039,"y":-0.049},{"c":"50-ый цикл","i":52,"x":-1.968,"y":-0.047},{"c":"50-ый цикл","i":53,"x":-1.898,"y":-0.050},{"c":"50-ый цикл","i":54,"x":-1.828,"y":-0.051},{"c":"50-ый цикл","i":55,"x":-1.786,"y":-0.043},{"c":"50-ый цикл","i":56,"x":-1.757,"y":-0.027},{"c":"50-ый цикл","i":57,"x":-1.729,"y":-0.002},{"c":"50-ый цикл","i":58,"x":-1.701,"y":0.035},{"c":"50-ый цикл","i":59,"x":-1.673,"y":0.080},{"c":"50-ый цикл","i":60,"x":-1.645,"y":0.128},{"c":"50-ый цикл","i":61,"x":-1.617,"y":0.169},{"c":"50-ый цикл","i":62,"x":-1.589,"y":0.189},{"c":"50-ый цикл","i":63,"x":-1.567,"y":0.194},{"c":"50-ый цикл","i":64,"x":-1.546,"y":0.187},{"c":"50-ый цикл","i":65,"x":-1.518,"y":0.164},{"c":"50-ый цикл","i":66,"x":-1.476,"y":0.126},{"c":"50-ый цикл","i":67,"x":-1.420,"y":0.094},{"c":"50-ый цикл","i":68,"x":-1.364,"y":0.074},{"c":"50-ый цикл","i":69,"x":-1.307,"y":0.057},{"c":"50-ый цикл","i":70,"x":-1.251,"y":0.047},{"c":"50-ый цикл","i":71,"x":-1.200,"y":0.038}
          ]},
          "mark": {"type": "line", "strokeWidth": 1.8},
          "encoding": {
            "x": {"field": "x", "type": "quantitative", "scale": {"domain": [-2.805, -1.105], "nice": false, "zero": false},
              "axis": {"orient": "bottom", "values": [-2.75,-2.5,-2.25,-2.0,-1.75,-1.5,-1.25], "labelExpr": "abs(round(datum.value*4))%2==0 ? replace(format(datum.value,'.1f'),'−','-') : ''", "tickSize": 6, "title": "Потенциал, В vs. Ag/AgNO₃", "titlePadding": 3}},
            "y": {"field": "y", "type": "quantitative", "scale": {"domain": [-0.329, 0.25], "nice": false, "zero": false},
              "axis": {"orient": "left", "values": [-0.3,-0.25,-0.2,-0.15,-0.1,-0.05,0,0.05,0.1,0.15,0.2,0.25], "labelExpr": "abs(round(datum.value*20))%2==0 ? replace(format(datum.value,'.1f'),'−','-') : ''", "tickSize": 6, "title": "Ток, мА", "titlePadding": 6}},
            "color": {"field": "c", "type": "nominal",
              "scale": {"domain": ["2-ой цикл","5-ый цикл","20-ый цикл","50-ый цикл"], "range": ["#6e6e6e","#18504c","#2f9f99","#f29ac2"]},
              "legend": {"orient": "none", "legendX": 15, "legendY": 9}},
            "order": {"field": "i", "type": "quantitative"}
          }
        },
        {
          "data": {"values": [{"x": -1.7, "y": 0.194, "y2": -0.281}]},
          "mark": {"type": "rule", "color": "#27336b", "strokeWidth": 2.5, "strokeDash": [10, 6]},
          "encoding": {
            "x": {"field": "x", "type": "quantitative", "axis": null},
            "y": {"field": "y", "type": "quantitative", "axis": null},
            "y2": {"field": "y2"}
          }
        },
        {
          "data": {"values": [{"t": "-1.7 В", "x": -1.7295, "y": 0.171}]},
          "mark": {"type": "text", "fontSize": 19, "align": "right", "baseline": "middle", "color": "#27336b"},
          "encoding": {
            "x": {"field": "x", "type": "quantitative", "axis": null},
            "y": {"field": "y", "type": "quantitative", "axis": null},
            "text": {"field": "t"}
          }
        },
        {
          "data": {"values": [{"t": "A2", "x": -1.132, "y": 0.2075}]},
          "mark": {"type": "text", "fontSize": 25, "fontWeight": "bold", "align": "right", "baseline": "middle", "color": "black"},
          "encoding": {
            "x": {"field": "x", "type": "quantitative", "axis": {"orient": "top", "values": [-2.75,-2.5,-2.25,-2.0,-1.75,-1.5,-1.25], "labels": false, "tickSize": -5, "title": null}},
            "y": {"field": "y", "type": "quantitative", "axis": {"orient": "right", "values": [-0.3,-0.25,-0.2,-0.15,-0.1,-0.05,0,0.05,0.1,0.15,0.2,0.25], "labels": false, "tickSize": -5, "title": null}},
            "text": {"field": "t"}
          }
        },
        {
          "data": {"values": [{"t": "MeCN", "x": -1.42, "y": -0.249}, {"t": "TBABF₄", "x": -1.42, "y": -0.294}]},
          "mark": {"type": "text", "fontSize": 19, "fontWeight": "bold", "align": "left", "baseline": "middle", "color": "black"},
          "encoding": {
            "x": {"field": "x", "type": "quantitative", "axis": null},
            "y": {"field": "y", "type": "quantitative", "axis": null},
            "text": {"field": "t"}
          }
        }
      ]
    }
  ]
}
